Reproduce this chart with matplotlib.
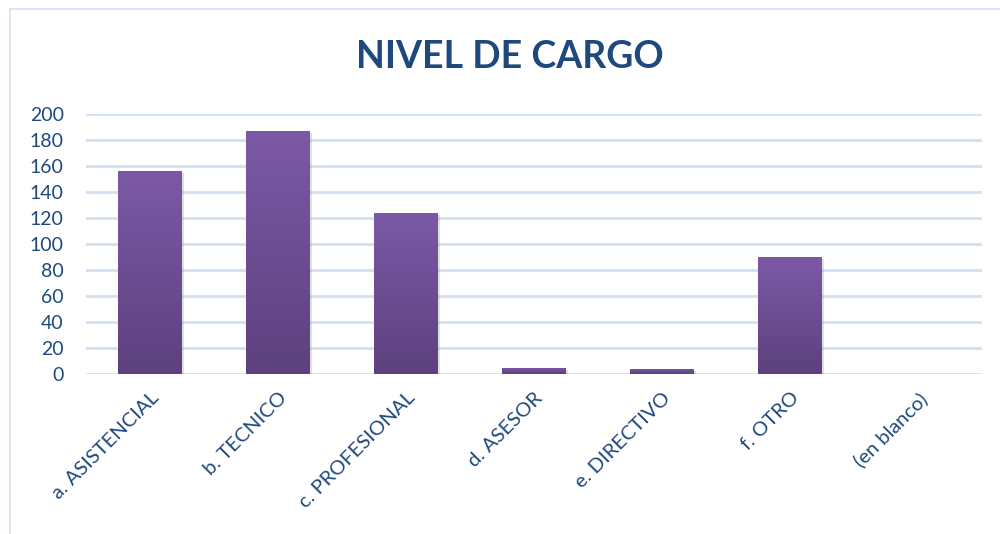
import numpy as np
import matplotlib.pyplot as plt
from matplotlib import patheffects
from matplotlib.colors import LinearSegmentedColormap
from matplotlib.patches import Rectangle

# Distribución por nivel de cargo
categorias = ['a. ASISTENCIAL', 'b. TECNICO', 'c. PROFESIONAL', 'd. ASESOR',
              'e. DIRECTIVO', 'f. OTRO', '(en blanco)']
valores = [156, 187, 124, 5, 4, 90, 0]
yticks = list(range(0, 201, 20))

azul = '#1F497D'
grilla = '#D3E0F3'

plt.rcParams['font.family'] = ['Lato', 'DejaVu Sans']

fig = plt.figure(figsize=(10, 5.34), dpi=100)
ax = fig.add_axes([0.086, 0.2996, 0.896, 0.4869])

# marco del gráfico
fig.patches.append(Rectangle((0.010, -0.2), 1.2, 1.2 - 9 / 534,
                             transform=fig.transFigure, fill=False,
                             edgecolor=grilla, linewidth=1.2))

x = np.arange(len(categorias))
barras = ax.bar(x, valores, width=0.5, color='#6A4B93', zorder=3)

# degradado vertical dentro de cada barra + sombra
cmap = LinearSegmentedColormap.from_list('morado', ['#5C417E', '#7C59A7'])
grad = np.linspace(0, 1, 256).reshape(-1, 1)
for b in barras:
    h = b.get_height()
    if h <= 0:
        continue
    b.set_path_effects([patheffects.SimplePatchShadow(offset=(1.5, -1.5), shadow_rgbFace='#999999', alpha=0.3),
                        patheffects.Normal()])
    img = ax.imshow(grad, cmap=cmap, aspect='auto', origin='lower',
                    extent=[b.get_x(), b.get_x() + b.get_width(), 0, h], zorder=4)
    img.set_clip_path(b)

ax.set_xlim(-0.5, len(categorias) - 0.5)
ax.set_ylim(0, 200)
ax.set_yticks(yticks)
ax.set_xticks(x)
ax.set_xticklabels(categorias, rotation=45, ha='right', rotation_mode='anchor')
ax.tick_params(axis='both', length=0, labelcolor=azul)
ax.tick_params(axis='y', pad=16, labelsize=14)
ax.tick_params(axis='x', pad=11, labelsize=14.5)

ax.grid(axis='y', color=grilla, linewidth=2, zorder=0)
for s in ax.spines.values():
    s.set_visible(False)
ax.set_axisbelow(True)

fig.text(0.51, 0.893, 'NIVEL DE CARGO', ha='center', va='center',
         fontsize=27, fontweight='bold', color=azul)

fig.savefig('out.png', dpi=100)
